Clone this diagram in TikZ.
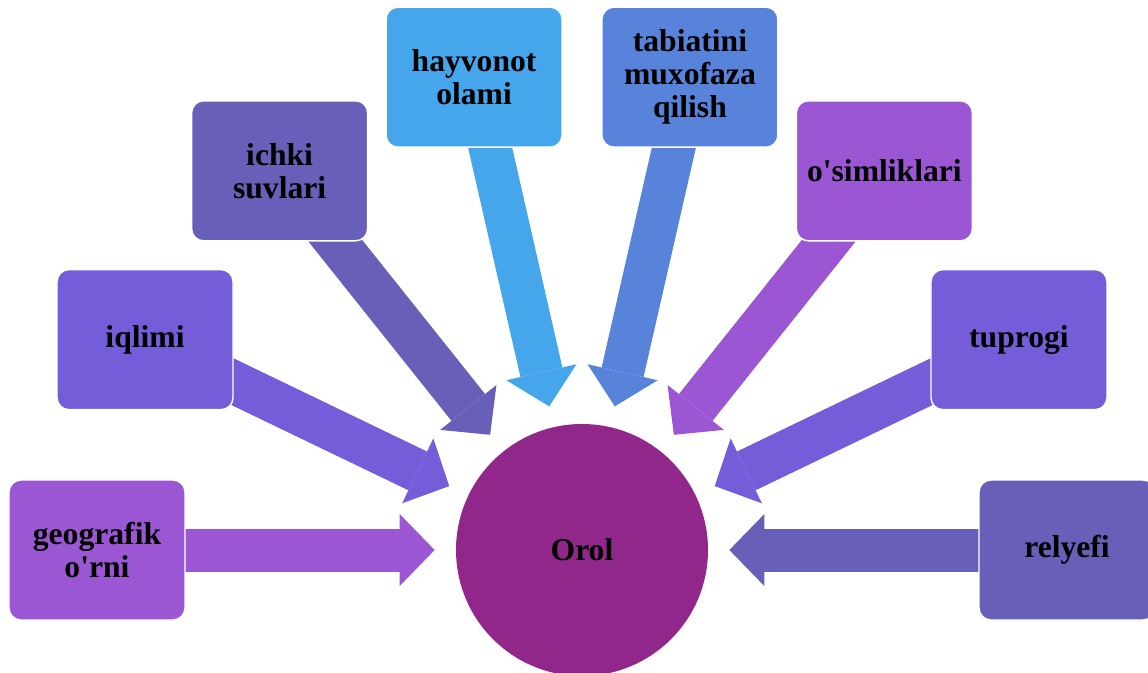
\documentclass[tikz,border=0pt]{standalone}
\usepackage{fontspec}
\newfontfamily\uzfont{Liberation Serif}
\usetikzlibrary{arrows.meta,backgrounds}
\definecolor{lila}{HTML}{9B57D3}
\definecolor{binafsha}{HTML}{755DD9}
\definecolor{siyoh}{HTML}{675FB8}
\definecolor{moviy}{HTML}{46A6EC}
\definecolor{kok}{HTML}{5883DA}
\definecolor{orolrang}{HTML}{92278B}

\begin{document}
\begin{tikzpicture}[
        box/.style={rectangle, rounded corners=0.24cm, draw=white, line width=0.8pt, minimum width=3.52cm, minimum height=2.8cm, align=center, font=\uzfont\bfseries\fontsize{18}{18.7}\selectfont},
        flow/.style={line width=0.86cm, shorten <=-0.6cm, shorten >=0.42cm, -{Triangle[length=0.7cm,width=1.44cm,line width=0pt]}}
    ]
        \useasboundingbox (-11.64,-2.44) rectangle (11.32,11);
        \node[circle, fill=orolrang, minimum size=5.04cm, inner sep=0pt, font=\uzfont\bfseries\fontsize{18}{18.7}\selectfont] at (0,0) (orol) {Orol};
        \node[box, fill=lila] at (180:9.7) (geo) {geografik\\o'rni};
        \node[box, fill=binafsha] at (154.29:9.7) (iqlim) {iqlimi};
        \node[box, fill=siyoh] at (128.57:9.7) (suv) {ichki\\suvlari};
        \node[box, fill=moviy] at (102.86:9.7) (hayvon) {hayvonot\\olami};
        \node[box, fill=kok] at (77.14:9.7) (tabiat) {tabiatini\\muxofaza\\qilish};
        \node[box, fill=lila] at (51.43:9.7) (osimlik) {o'simliklari};
        \node[box, fill=binafsha] at (25.71:9.7) (tuproq) {tuprogi};
        \node[box, fill=siyoh] at (0:9.7) (relyef) {relyefi};
        \begin{scope}[on background layer]
        \draw[flow, lila] (geo) -- (orol);
        \draw[flow, binafsha] (iqlim) -- (orol);
        \draw[flow, siyoh] (suv) -- (orol);
        \draw[flow, moviy] (hayvon) -- (orol);
        \draw[flow, kok] (tabiat) -- (orol);
        \draw[flow, lila] (osimlik) -- (orol);
        \draw[flow, binafsha] (tuproq) -- (orol);
        \draw[flow, siyoh] (relyef) -- (orol);
        \end{scope}
\end{tikzpicture}
\end{document}
